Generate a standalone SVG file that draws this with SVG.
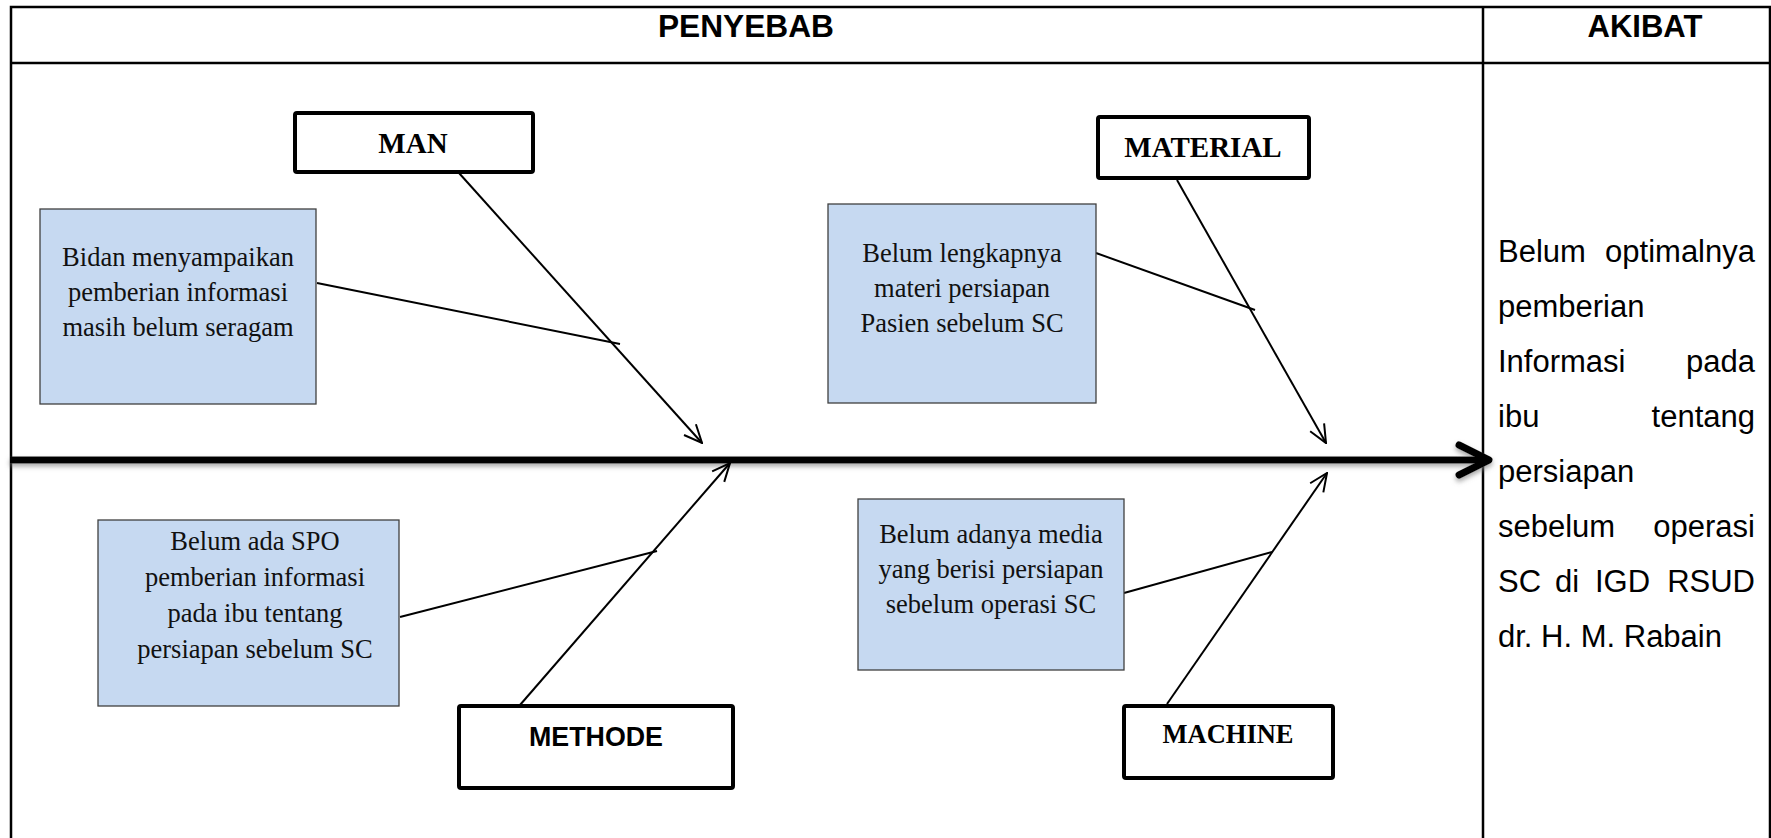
<svg xmlns="http://www.w3.org/2000/svg" width="1771" height="838" viewBox="0 0 1771 838">
<style>
.frame{stroke:#000;stroke-width:2.5;fill:none}
.hdr{font-family:"Liberation Sans",Arial,sans-serif;font-weight:bold;font-size:31px;fill:#000;text-anchor:middle}
.cat{fill:#fff;stroke:#000;stroke-width:4}
.catt{font-family:"Liberation Serif","Times New Roman",serif;font-weight:bold;fill:#000;text-anchor:middle}
.cause{fill:#C6D9F1;stroke:#404040;stroke-width:1.3}
.ct{font-family:"Liberation Serif","Times New Roman",serif;font-size:26.5px;fill:#111;text-anchor:middle}
.ln{stroke:#000;stroke-width:2;fill:none}
.res{font-family:"Liberation Sans",Arial,sans-serif;font-size:31px;fill:#000}
</style>
<defs>
<marker id="ah" viewBox="0 0 20 20" refX="19" refY="10" markerWidth="20" markerHeight="20" markerUnits="userSpaceOnUse" orient="auto">
<path d="M1,2 L19,10 L1,18" fill="none" stroke="#000" stroke-width="2"/>
</marker>
<filter id="sh" x="-5%" y="-100%" width="110%" height="400%">
<feDropShadow dx="0" dy="3" stdDeviation="2.5" flood-color="#808080" flood-opacity="0.7"/>
</filter>
</defs>
<rect width="1771" height="838" fill="#fff"/>
<g id="table">
<path class="frame" d="M11,838 V7 H1770 V838 M11,63 H1770 M1483,7 V838"/>
<text class="hdr" x="746" y="37" textLength="176" lengthAdjust="spacingAndGlyphs">PENYEBAB</text>
<text class="hdr" x="1645" y="37">AKIBAT</text>
</g>
<g id="connectors">
<g filter="url(#sh)">
<line x1="10" y1="460" x2="1486" y2="460" stroke="#000" stroke-width="7"/>
<path d="M1459,445 L1489,460 L1459,475" fill="none" stroke="#000" stroke-width="7" stroke-linecap="round" stroke-linejoin="round"/>
</g>
<line class="ln" x1="459" y1="173" x2="702" y2="443" marker-end="url(#ah)"/>
<line class="ln" x1="317" y1="283" x2="620" y2="344"/>
<line class="ln" x1="1177" y1="180" x2="1326" y2="443" marker-end="url(#ah)"/>
<line class="ln" x1="1096" y1="253" x2="1255" y2="310"/>
<line class="ln" x1="520" y1="705" x2="730" y2="463" marker-end="url(#ah)"/>
<line class="ln" x1="400" y1="617" x2="657" y2="551"/>
<line class="ln" x1="1167" y1="704" x2="1327" y2="473" marker-end="url(#ah)"/>
<line class="ln" x1="1124" y1="593" x2="1272" y2="552"/>
</g>
<g id="man">
<rect class="cat" x="295" y="113" width="238" height="59" rx="2"/>
<text class="catt" x="413" y="153" font-size="29">MAN</text>
</g>
<g id="material">
<rect class="cat" x="1098" y="117" width="211" height="61" rx="2"/>
<text class="catt" x="1203" y="157" font-size="29">MATERIAL</text>
</g>
<g id="methode">
<rect class="cat" x="459" y="706" width="274" height="82" rx="2"/>
<text x="596" y="746" font-family="'Liberation Sans',Arial,sans-serif" font-weight="bold" font-size="27" text-anchor="middle" textLength="134" lengthAdjust="spacingAndGlyphs">METHODE</text>
</g>
<g id="machine">
<rect class="cat" x="1124" y="706" width="209" height="72" rx="2"/>
<text class="catt" x="1228" y="743" font-size="26.5">MACHINE</text>
</g>
<g id="cause-man">
<rect class="cause" x="40" y="209" width="276" height="195"/>
<text class="ct" x="178" y="266">Bidan menyampaikan</text>
<text class="ct" x="178" y="301">pemberian informasi</text>
<text class="ct" x="178" y="336">masih belum seragam</text>
</g>
<g id="cause-material">
<rect class="cause" x="828" y="204" width="268" height="199"/>
<text class="ct" x="962" y="262">Belum lengkapnya</text>
<text class="ct" x="962" y="297">materi persiapan</text>
<text class="ct" x="962" y="332">Pasien sebelum SC</text>
</g>
<g id="cause-methode">
<rect class="cause" x="98" y="520" width="301" height="186"/>
<text class="ct" x="255" y="550">Belum ada SPO</text>
<text class="ct" x="255" y="586">pemberian informasi</text>
<text class="ct" x="255" y="622">pada ibu tentang</text>
<text class="ct" x="255" y="658">persiapan sebelum SC</text>
</g>
<g id="cause-machine">
<rect class="cause" x="858" y="499" width="266" height="171"/>
<text class="ct" x="991" y="543">Belum adanya media</text>
<text class="ct" x="991" y="578">yang berisi persiapan</text>
<text class="ct" x="991" y="613">sebelum operasi SC</text>
</g>
<g id="akibat">
<text class="res"><tspan x="1498" y="262">Belum</tspan><tspan x="1755" y="262" text-anchor="end">optimalnya</tspan></text>
<text class="res" x="1498" y="317">pemberian</text>
<text class="res"><tspan x="1498" y="372">Informasi</tspan><tspan x="1755" y="372" text-anchor="end">pada</tspan></text>
<text class="res"><tspan x="1498" y="427">ibu</tspan><tspan x="1755" y="427" text-anchor="end">tentang</tspan></text>
<text class="res" x="1498" y="482">persiapan</text>
<text class="res"><tspan x="1498" y="537">sebelum</tspan><tspan x="1755" y="537" text-anchor="end">operasi</tspan></text>
<text class="res"><tspan x="1498" y="592">SC</tspan><tspan x="1555" y="592">di</tspan><tspan x="1595" y="592">IGD</tspan><tspan x="1755" y="592" text-anchor="end">RSUD</tspan></text>
<text class="res" x="1498" y="647">dr. H. M. Rabain</text>
</g>
</svg>
